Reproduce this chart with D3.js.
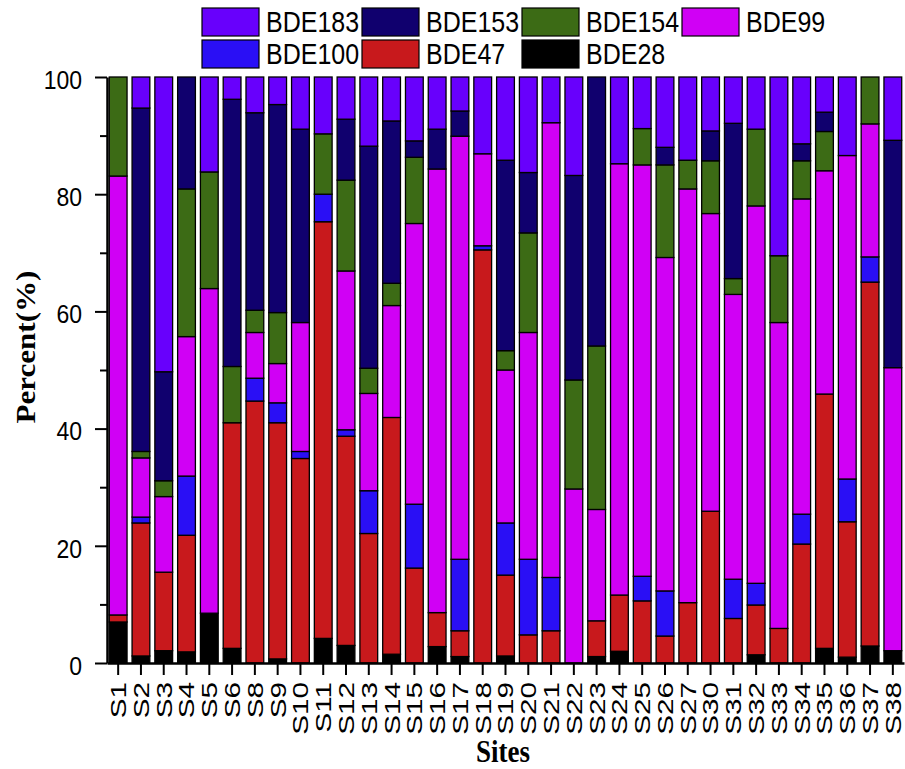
<!DOCTYPE html>
<html>
<head>
<meta charset="utf-8">
<script src="https://cdn.jsdelivr.net/npm/d3@7"></script>
<style>
  body { margin: 0; background: #fff; }
  .axis text { font-family: "Liberation Sans", Arial, sans-serif; fill: #000; }
</style>
</head>
<body>
<div class="chart"></div>
<script>
// data (percent of total PBDE per site)
var sites = ["S1","S2","S3","S4","S5","S6","S8","S9","S10","S11","S12","S13","S14","S15","S16","S17","S18",
  "S19","S20","S21","S22","S23","S24","S25","S26","S27","S30","S31","S32","S33","S34","S35","S36","S37","S38"];

var bde28  = [7.0,1.2,2.1,1.9,8.5,2.5,0,0.7,0,4.2,3.0,0,1.5,0,2.8,1.1,0,1.2,0,0,0,1.1,2.0,0,0,0,0,0,1.4,0,0,2.5,1.0,2.9,2.1];
var bde47  = [1.2,22.7,13.4,19.9,0,38.5,44.7,40.3,34.9,71.1,35.7,22.1,40.4,16.2,5.8,4.4,70.5,13.8,4.8,5.5,0,6.1,9.6,10.6,4.6,10.3,25.9,7.6,8.5,5.9,20.3,43.4,23.1,62.1,0];
var bde100 = [0,1.0,0,10.1,0,0,3.9,3.4,1.2,4.7,1.1,7.3,0,10.9,0,12.2,0.7,8.9,12.9,9.1,0,0,0,4.2,7.7,0,0,6.7,3.7,0,5.1,0,7.3,4.3,0];
var bde99  = [74.9,10.1,12.9,23.8,55.4,0,7.8,6.7,22.0,0,27.1,16.6,19.1,47.9,75.7,72.2,15.7,26.1,38.7,77.6,29.7,19.0,73.6,70.2,56.9,70.6,50.8,48.6,64.4,52.2,53.8,38.1,55.2,22.7,48.3];
var bde154 = [16.9,1.1,2.7,25.2,19.9,9.6,3.8,8.7,0,10.3,15.5,4.3,3.8,11.3,0,0,0,3.3,17.0,0,18.6,27.9,0,6.2,15.8,4.9,9.0,2.7,13.1,11.4,6.5,6.7,0,8.0,0];
var bde153 = [0,58.6,18.6,19.1,0,45.6,33.7,35.5,33.0,0,10.4,37.9,27.7,2.8,6.8,4.3,0,32.5,10.3,0,34.9,45.9,0,0,3.0,0,5.1,26.5,0,0,2.9,3.3,0,0,38.8];
var bde183 = [0,5.3,50.3,0,16.2,3.8,6.1,4.7,8.9,9.7,7.2,11.8,7.5,10.9,8.9,5.8,13.1,14.2,16.3,7.8,16.8,0,14.8,8.8,12.0,14.2,9.2,7.9,8.9,30.5,11.4,6.0,13.4,0,10.8];

// stack order, bottom to top
var seriesNames = ["BDE28","BDE47","BDE100","BDE99","BDE154","BDE153","BDE183"];
var seriesValues = [bde28, bde47, bde100, bde99, bde154, bde153, bde183];
var seriesColors = ["#000000","#c8191c","#2a0ff5","#d000f5","#3c6b15","#10006e","#6800fc"];

// legend layout, as in the figure
var legendOrder = ["BDE183","BDE153","BDE154","BDE99","BDE100","BDE47","BDE28"];
var yTicks = [0,10,20,30,40,50,60,70,80,90,100];

// SVG container
var svgWidth = 905;
var svgHeight = 769;

var margin = {
  top: 77,
  right: 1,
  bottom: 106,
  left: 107
};

var width = svgWidth - margin.left - margin.right;
var height = svgHeight - margin.top - margin.bottom;

var svg = d3.select(".chart")
  .append("svg")
  .attr("width", svgWidth)
  .attr("height", svgHeight);

var chartGroup = svg.append("g")
  .attr("transform", `translate(${margin.left}, ${margin.top})`);

// one row per site
var table = sites.map(function(s, i) {
  var row = { site: s };
  seriesNames.forEach(function(k, j) { row[k] = seriesValues[j][i]; });
  return row;
});

var stacked = d3.stack()
  .keys(seriesNames)
  .offset(d3.stackOffsetExpand)(table);

var xScale = d3.scaleBand()
  .domain(sites)
  .range([0, width])
  .paddingInner(0.22)
  .paddingOuter(0.1);

var yScale = d3.scaleLinear()
  .domain([0, 100])
  .range([height, 0]);

var colorScale = d3.scaleOrdinal()
  .domain(seriesNames)
  .range(seriesColors);

// bars
chartGroup.selectAll(".layer")
  .data(stacked)
  .enter()
  .append("g")
  .attr("class", "layer")
  .attr("fill", d => colorScale(d.key))
  .selectAll("rect")
  .data(d => d.filter(p => p[1] - p[0] > 0))
  .enter()
  .append("rect")
  .attr("x", d => xScale(d.data.site))
  .attr("width", xScale.bandwidth())
  .attr("y", d => yScale(d[1] * 100))
  .attr("height", d => yScale(d[0] * 100) - yScale(d[1] * 100))
  .attr("stroke", "#000")
  .attr("stroke-width", 1.3);

// y axis
var yAxisG = chartGroup.append("g")
  .attr("class", "axis")
  .call(d3.axisLeft(yScale)
    .tickValues(yTicks)
    .tickSize(12)
    .tickSizeOuter(0)
    .tickPadding(13)
    .tickFormat(d => d % 20 === 0 ? d : ""));

yAxisG.select(".domain").attr("stroke-width", 2.5);
yAxisG.selectAll(".tick line")
  .attr("stroke-width", 2)
  .attr("x2", d => d % 20 === 0 ? -12 : -7);
yAxisG.selectAll(".tick text")
  .style("font-size", "23px")
  .attr("dy", "0.45em")
  .attr("transform", "scale(1,1.1)");

// x axis
var xAxisG = chartGroup.append("g")
  .attr("class", "axis")
  .attr("transform", `translate(0, ${height})`)
  .call(d3.axisBottom(xScale).tickSize(12).tickSizeOuter(0));

xAxisG.select(".domain").attr("stroke-width", 2.5);
xAxisG.selectAll(".tick line").attr("stroke-width", 2);
xAxisG.selectAll(".tick text").remove();
xAxisG.selectAll(".tick")
  .append("text")
  .attr("transform", "translate(0, 19) rotate(-90) scale(1.35,1)")
  .attr("text-anchor", "end")
  .attr("dy", "0.36em")
  .style("font-size", "22px")
  .text(d => d);

// axis titles
svg.append("text")
  .attr("transform", "translate(26, 347) rotate(-90) scale(1.15,1)")
  .attr("text-anchor", "middle")
  .attr("dy", "0.35em")
  .style("font-family", "'Liberation Serif', 'Times New Roman', serif")
  .style("font-weight", "bold")
  .style("font-size", "27px")
  .text("Percent(%)");

svg.append("text")
  .attr("transform", "translate(503, 762) scale(1,1.15)")
  .attr("text-anchor", "middle")
  .style("font-family", "'Liberation Serif', 'Times New Roman', serif")
  .style("font-weight", "bold")
  .style("font-size", "27px")
  .text("Sites");

// legend, two rows of four columns
var legend = svg.append("g");
var items = legend.selectAll("g")
  .data(legendOrder)
  .enter()
  .append("g")
  .attr("transform", (d, i) => `translate(${202 + (i % 4) * 160}, ${8 + Math.floor(i / 4) * 32})`);

items.append("rect")
  .attr("width", 57)
  .attr("height", 28)
  .attr("fill", d => colorScale(d))
  .attr("stroke", "#000")
  .attr("stroke-width", 1.2);

items.append("text")
  .attr("transform", "translate(64, 24) scale(1,1.15)")
  .style("font-family", "'Liberation Sans', Arial, sans-serif")
  .style("font-size", "25px")
  .text(d => d);
</script>
</body>
</html>
